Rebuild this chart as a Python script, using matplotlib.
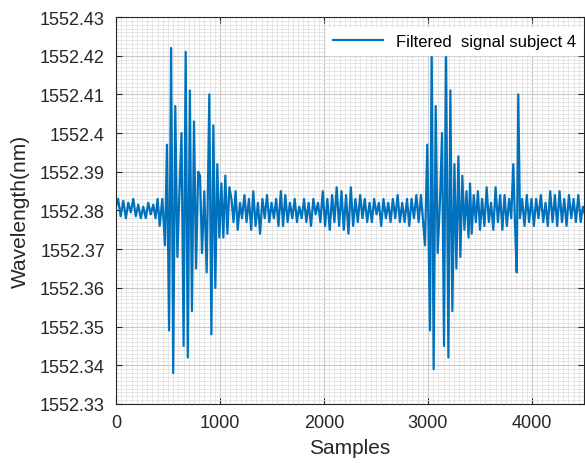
import numpy as np
import matplotlib.pyplot as plt
from matplotlib.ticker import MultipleLocator

plt.rcParams['font.family'] = ['Liberation Sans', 'DejaVu Sans']

# signal: sample index and deviation (pm) from 1552.38 nm
base_nm = 1552.38

quiet_start_x = [0, 20, 45, 70, 95, 118, 142, 166, 190, 214, 238, 262, 286, 310, 334, 358, 380, 400, 420, 445]
quiet_start_pm = [1, 3, -1.5, 2.5, -2, 2, -0.5, 3, -1.5, 1.5, -2, 1, -2, 2, -1, 1.5, -2, 3, -4, 3]

burst1_x = [471, 490, 510, 530, 550, 570, 590, 605, 630, 650, 670, 690, 710, 730, 750, 770, 790, 808,
            827, 849, 872, 897, 917, 936, 955, 974, 994, 1013, 1032, 1051, 1071, 1090]
burst1_pm = [-9, 17, -31, 42, -42, 27, -12, 1, 20, -35, 41, -38, 31, -26, 23, -15, 10, 9,
             -11, 5, -16, 30, -32, 22, -20, 12, -7, 7, -7, 9, -6, 6]

quiet_mid_x = [1110, 1130, 1150, 1170, 1192, 1212, 1235, 1255, 1278, 1300, 1320, 1342, 1365, 1385, 1408,
               1430, 1452, 1474, 1496, 1518, 1540, 1562, 1585, 1606, 1628, 1650, 1672,
               1695, 1718, 1740, 1762, 1785, 1808, 1830, 1852, 1875, 1898, 1920, 1942, 1965, 1988, 2010,
               2032, 2055, 2078, 2100, 2122, 2145, 2168, 2190, 2212, 2235, 2258, 2280, 2302, 2325, 2348,
               2370, 2392, 2415, 2438, 2460, 2482, 2505, 2528, 2550, 2572, 2595, 2618, 2640, 2662, 2685,
               2708, 2730, 2752, 2775, 2798, 2820, 2842, 2865, 2888, 2910, 2932, 2950]
quiet_mid_pm = [3, -3, 5, -5, 2, -2, 4, -3, 3, -5, 5, -4, 2, -6, 3,
                -2, 4, -3, 2, -2, 3, -4, 5, -4, 4, -3, 2,
                -2, 3, -3, 1, -2, 3, -3, 2, -4, 3, -1, 2, -3, 5, -4,
                3, -5, 4, -3, 6, -4, 5, -5, 4, -6, 6, -4, 3, -3, 4,
                -2, 3, -3, 2, -3, 3, -1, 2, -4, 3, -2, 2, -3, 3, -2,
                4, -3, 2, -3, 3, -4, 3, -2, 4, -3, 4, -2]

burst2_x = [2971, 2993, 3019, 3035, 3054, 3074, 3093, 3116, 3135, 3154, 3173, 3196, 3215, 3234, 3254,
            3273, 3292, 3311, 3330, 3350, 3370, 3390, 3404, 3420]
burst2_pm = [-9, 17, -31, 43, -41, 27, -11, 3, 20, -35, 43, -38, 31, -26, 12,
             -15, 14, -12, 9, -5, 5, -7, 7, -6]

quiet_late_x = [3440, 3460, 3480, 3500, 3520, 3542, 3564, 3585, 3606, 3628, 3650, 3672, 3694, 3715,
                3736, 3758, 3780, 3800]
quiet_late_pm = [4, -3, 5, -5, 3, -4, 6, -3, 2, -5, 6, -3, 4, -5, 4, -4, 3, -2]

spike_x = [3820, 3836, 3853, 3868, 3884]
spike_pm = [12, -3, -16, 30, -2]

quiet_end_x = [3905, 3928, 3950, 3972, 3995, 4018, 4040, 4062, 4085, 4108, 4130, 4152, 4175, 4198,
               4220, 4242, 4265, 4288, 4310, 4332, 4355, 4378, 4400, 4422, 4445, 4468, 4490, 4510]
quiet_end_pm = [3, -4, 4, -3, 3, -4, 3, -2, 4, -3, 2, -4, 5, -3,
                4, -4, 5, -3, 3, -4, 4, -2, 3, -3, 4, -3, 1, -1]

samples = quiet_start_x + burst1_x + quiet_mid_x + burst2_x + quiet_late_x + spike_x + quiet_end_x
deviation_pm = quiet_start_pm + burst1_pm + quiet_mid_pm + burst2_pm + quiet_late_pm + spike_pm + quiet_end_pm
wavelength = base_nm + np.array(deviation_pm) * 1e-3

x_ticks = [0, 1000, 2000, 3000, 4000]
y_ticks = [1552.33, 1552.34, 1552.35, 1552.36, 1552.37, 1552.38, 1552.39, 1552.40, 1552.41, 1552.42, 1552.43]
y_labels = ['1552.33', '1552.34', '1552.35', '1552.36', '1552.37', '1552.38', '1552.39', '1552.4', '1552.41', '1552.42', '1552.43']

fig = plt.figure(figsize=(5.85, 4.64), dpi=100)
ax = fig.add_axes([0.1983, 0.1272, 0.800, 0.834])

ax.plot(samples, wavelength, color='#0072BD', lw=1.6, label='Filtered  signal subject 4')

ax.set_xlim(0, 4500)
ax.set_ylim(1552.33, 1552.43)
ax.set_xticks(x_ticks)
ax.set_yticks(y_ticks)
ax.set_yticklabels(y_labels)
ax.xaxis.set_minor_locator(MultipleLocator(50))
ax.yaxis.set_minor_locator(MultipleLocator(0.001))
ax.grid(which='major', color='#c8c8c8', lw=0.8)
ax.grid(which='minor', color='#e2e2e2', lw=0.6)
ax.set_axisbelow(True)
ax.tick_params(which='major', direction='in', top=True, right=True, length=4,
               labelsize=13, colors='#262626')
ax.tick_params(axis='x', pad=7)
ax.tick_params(axis='y', pad=8)
ax.tick_params(which='minor', length=0)
for s in ax.spines.values():
    s.set_color('#262626')
    s.set_linewidth(0.8)

ax.set_xlabel('Samples', fontsize=15, color='#262626', labelpad=5)
ax.set_ylabel('Wavelength(nm)', fontsize=15, color='#262626', labelpad=7)

leg = ax.legend(loc='upper right', bbox_to_anchor=(1.0, 0.975), fontsize=12, frameon=True,
                fancybox=False, handlelength=3, borderaxespad=0.1, borderpad=0.35)
leg.get_frame().set_edgecolor('white')
leg.get_frame().set_alpha(1)

fig.savefig('out.png', dpi=100)
